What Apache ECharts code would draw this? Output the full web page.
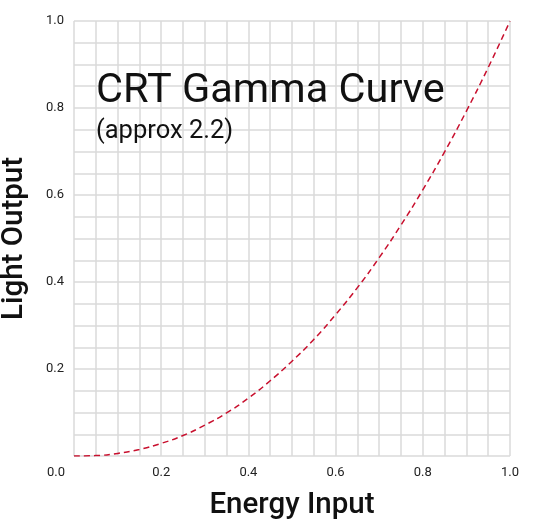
<!DOCTYPE html>
<html>
<head>
<meta charset="utf-8">
<script src="https://cdn.jsdelivr.net/npm/echarts@6/dist/echarts.min.js"></script>
<style>
  html, body { margin: 0; padding: 0; background: #fff; }
  #chart { width: 560px; height: 522px; }
</style>
</head>
<body>
<div id="chart"></div>
<script>
  // energy input vs light output
  var energyInput = [0, 0.05, 0.1, 0.15, 0.2, 0.25, 0.3, 0.35, 0.4, 0.45, 0.5,
    0.55, 0.6, 0.65, 0.7, 0.75, 0.8, 0.85, 0.9, 0.95, 1.0];
  var lightOutput = [0, 0.001, 0.006, 0.015, 0.029, 0.047, 0.071, 0.099, 0.133, 0.173, 0.218,
    0.268, 0.325, 0.387, 0.456, 0.531, 0.612, 0.699, 0.793, 0.893, 1.0];

  var points = [];
  for (var i = 0; i < energyInput.length; i++) {
    points.push([energyInput[i], lightOutput[i]]);
  }

  var gridColor = '#dadada';
  var fontName = 'Roboto';

  function axisCfg(name) {
    return {
      type: 'value',
      min: 0,
      max: 1,
      interval: 0.2,
      name: name,
      nameLocation: 'middle',
      nameTextStyle: { fontFamily: fontName, fontSize: 29.5, fontWeight: 500, color: '#111' },
      axisLine: { show: false },
      axisTick: { show: false },
      axisLabel: {
        fontFamily: fontName,
        fontSize: 13,
        color: '#222'
      },
      splitLine: { show: true, lineStyle: { color: gridColor, width: 1.5 } },
      minorTick: { show: false, splitNumber: 4 },
      minorSplitLine: { show: true, lineStyle: { color: gridColor, width: 1.5 } }
    };
  }

  var xAxis = axisCfg('Energy Input');
  xAxis.nameGap = 35;
  xAxis.axisLabel.margin = 10;
  xAxis.axisLabel.alignMinLabel = 'right';
  xAxis.axisLabel.formatter = function (v) {
    return v === 0 ? '{zero|0.0}' : v.toFixed(1);
  };
  xAxis.axisLabel.rich = {
    zero: { fontFamily: fontName, fontSize: 13, color: '#222', padding: [0, 9, 0, 0] }
  };

  var yAxis = axisCfg('Light Output');
  yAxis.nameGap = 44;
  yAxis.axisLabel.margin = 10;
  yAxis.axisLabel.formatter = function (v) {
    return v === 0 ? '' : v.toFixed(1);
  };

  var option = {
    animation: false,
    backgroundColor: '#fff',
    grid: { left: 74, right: 50, top: 21, bottom: 66, outerBoundsMode: 'none' },
    title: {
      text: 'CRT Gamma Curve',
      subtext: '(approx 2.2)',
      left: 91,
      top: 66,
      itemGap: 6,
      textStyle: { fontFamily: fontName, fontSize: 41.5, fontWeight: 'normal', color: '#111' },
      subtextStyle: { fontFamily: fontName, fontSize: 25.5, color: '#111' }
    },
    xAxis: xAxis,
    yAxis: yAxis,
    series: [{
      type: 'line',
      data: points,
      smooth: true,
      showSymbol: false,
      lineStyle: { color: '#c8102e', width: 1.5, type: [6, 4] }
    }]
  };

  var chart = echarts.init(document.getElementById('chart'));
  chart.setOption(option);
</script>
</body>
</html>
